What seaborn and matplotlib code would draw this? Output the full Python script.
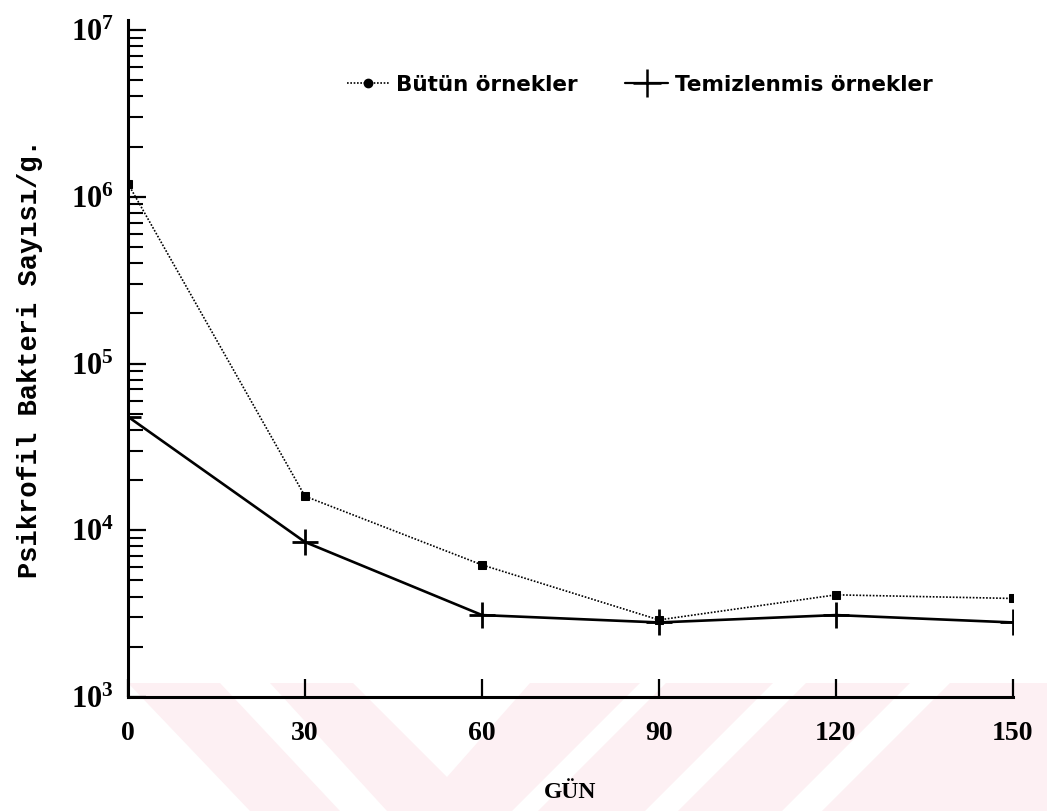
import numpy as np
import pandas as pd
import matplotlib
matplotlib.use("Agg")
import matplotlib.pyplot as plt
import seaborn as sns
from matplotlib.ticker import LogLocator, LogFormatterMathtext, NullFormatter
from matplotlib.lines import Line2D
from matplotlib.patches import Polygon

# Data
days = [0, 30, 60, 90, 120, 150]
butun = [1.2e6, 1.6e4, 6.2e3, 2.9e3, 4.1e3, 3.9e3]
temiz = [4.8e4, 8.5e3, 3.1e3, 2.8e3, 3.1e3, 2.8e3]
series_names = ["Bütün örnekler", "Temizlenmis örnekler"]
x_ticks = [0, 30, 60, 90, 120, 150]

# Background watermark (decoration, figure pixel coordinates)
W, H = 1047, 811
watermark_shapes = [
    [(128, 683), (220, 683), (340, 811), (250, 811)],
    [(270, 683), (353, 683), (447, 777), (530, 683), (640, 683), (512, 811), (387, 811)],
    [(666, 683), (773, 683), (645, 811), (538, 811)],
    [(806, 683), (910, 683), (782, 811), (678, 811)],
    [(950, 683), (1047, 683), (1047, 811), (822, 811)],
]
watermark_color = "#fdf0f3"

sns.set_style("ticks")
plt.rcParams["font.family"] = ["Liberation Serif", "DejaVu Serif"]
plt.rcParams["font.weight"] = "bold"
plt.rcParams["mathtext.fontset"] = "custom"
plt.rcParams["mathtext.rm"] = "Liberation Serif:bold"
plt.rcParams["mathtext.bf"] = "Liberation Serif:bold"
plt.rcParams["mathtext.it"] = "Liberation Serif:bold"
for k in ["text.color", "axes.labelcolor", "xtick.color", "ytick.color", "axes.edgecolor"]:
    plt.rcParams[k] = "black"

df = pd.DataFrame({"day": days * 2,
                   "value": butun + temiz,
                   "series": [series_names[0]] * len(days) + [series_names[1]] * len(days)})

fig = plt.figure(figsize=(W / 100, H / 100), dpi=100)
for shape in watermark_shapes:
    fig.patches.append(Polygon([(x / W, 1 - y / H) for x, y in shape], closed=True,
                               transform=fig.transFigure, facecolor=watermark_color,
                               edgecolor="none", zorder=-10))

ax = fig.add_axes([128 / W, 1 - 697 / H, (1013 - 128) / W, (697 - 20) / H])
ax.set_facecolor("none")
ax.set_zorder(5)

sns.lineplot(data=df[df.series == series_names[0]], x="day", y="value", ax=ax,
             color="black", linestyle=(0, (1, 1.0)), linewidth=1.2,
             marker="s", markersize=6, markeredgecolor="black", legend=False)
sns.lineplot(data=df[df.series == series_names[1]], x="day", y="value", ax=ax,
             color="black", linestyle="-", linewidth=1.9,
             marker="+", markersize=19, markeredgewidth=2, markeredgecolor="black",
             legend=False)

ax.set_yscale("log")
ax.set_ylim(1e3, 1.15e7)
ax.set_xlim(0, 150)
ax.set_xticks(x_ticks)
ax.set_xticklabels([str(t) for t in x_ticks], fontsize=20, fontweight="bold")
ax.yaxis.set_major_locator(LogLocator(base=10, numticks=10))
ax.yaxis.set_minor_locator(LogLocator(base=10, subs=np.arange(2, 10), numticks=20))
ax.yaxis.set_major_formatter(LogFormatterMathtext())
ax.yaxis.set_minor_formatter(NullFormatter())
ax.tick_params(axis="y", which="major", labelsize=22)

ax.tick_params(axis="both", which="major", direction="in", length=13, width=1.6)
ax.tick_params(axis="y", which="minor", direction="in", length=11, width=1.5)
ax.tick_params(axis="y", which="major", pad=10)
ax.tick_params(axis="x", which="major", pad=17)

sns.despine(ax=ax)
for s in ["left", "bottom"]:
    ax.spines[s].set_linewidth(2.2)

ax.set_xlabel("GÜN", fontsize=17, fontweight="bold", labelpad=26)
ax.set_ylabel("Psikrofil Bakteri Sayısı/g.", fontfamily="Liberation Mono",
              fontweight="bold", fontsize=19.5, labelpad=20)

handles = [Line2D([], [], color="black", linestyle=(0, (1, 1.0)), linewidth=1.2,
                  marker="o", markersize=6),
           Line2D([], [], color="black", linestyle="-", linewidth=1.6,
                  marker="+", markersize=20, markeredgewidth=1.8)]
ax.legend(handles, series_names, loc="center", bbox_to_anchor=(0.578, 0.904), ncol=2,
          frameon=False, prop={"family": "DejaVu Sans", "weight": "bold", "size": 15.5},
          handlelength=2.0, columnspacing=2.2, handletextpad=0.3)

fig.savefig("out.png", dpi=100)
